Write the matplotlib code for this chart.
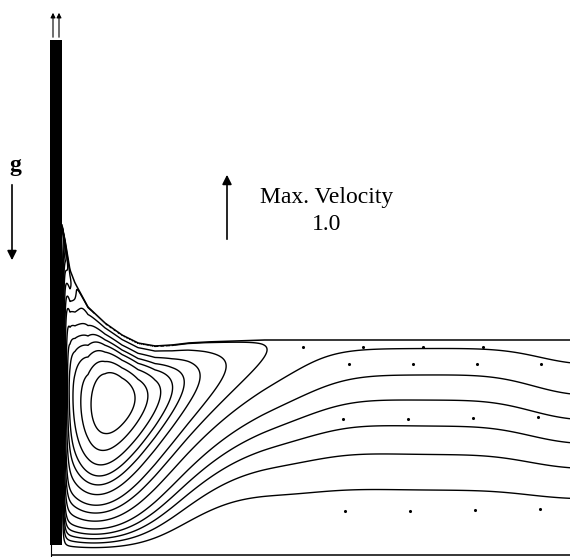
import numpy as np
import matplotlib
matplotlib.use("Agg")
import matplotlib.pyplot as plt
from matplotlib.patches import Rectangle

# ---- data -------------------------------------------------------------
# free surface (meniscus): distance from plate vs height above bath bottom
surface_x = [0, 3, 8, 13, 26, 43, 60, 76, 93, 110, 126, 143, 200, 508]
surface_y = [330, 315, 285, 272, 248, 232, 220, 212, 209, 210, 212, 213, 215, 215]

# streamline levels (flux carried by the film = 1)
open_levels = [0.26, 0.40, 0.515, 0.625, 0.74, 0.885]
vortex_levels = [1.01, 1.11, 1.22, 1.30, 1.36, 1.42, 1.48, 1.53]

# vortex parameters
vortex_strength = 1.5
vortex_xc = 30.0
vortex_w_bottom = 60.0
vortex_w_top = 140.0
vortex_wall = 2.0
vortex_bottom = 40.0
vortex_top = 38.0
# far-field bulge of the streamlines
bulge_eps = 0.21
bulge_x = 360.0
bulge_w = 120.0

# far-field velocity vectors (tiny)
vec_x = [241, 301, 361, 421, 287, 351, 415, 479, 281, 346, 411, 476, 283, 348, 413, 478]
vec_y = [208, 208, 208, 208, 191, 191, 191, 191, 136, 136, 137, 138, 44, 44, 45, 46]

H = 215.0
L = 508.0


# ---- stream function ---------------------------------------------------
def field(X, Y):
    h = np.interp(X, surface_x, surface_y)
    eta = np.clip(Y / h, 0, 1)
    zeta = np.exp(np.pi * (X + 1j * H * eta) / H)
    t = zeta + 1.0 / zeta
    psi_open = np.angle(t + 2) / np.pi
    G = np.exp(-((X - bulge_x) / bulge_w) ** 4)
    psi_open = psi_open - bulge_eps * G * eta ** 1.3 * (1 - eta) ** 0.3
    wx = vortex_w_bottom + (vortex_w_top - vortex_w_bottom) * eta
    Sx = (1 - np.exp(-X / vortex_wall)) * np.exp(-((X - vortex_xc) / wx) ** 2)
    Ty = (1 - np.exp(-Y / vortex_bottom)) * (1 - np.exp(-np.clip(h - Y, 0, None) / vortex_top))
    return psi_open + vortex_strength * Sx * Ty, h


xg = np.concatenate([np.linspace(0, 30, 300), np.linspace(30.2, L, 900)])
yg = np.linspace(0, 330, 1000)
X, Y = np.meshgrid(xg, yg)
psi, h = field(X, Y)
psi = np.ma.masked_where(Y / h > 0.999, psi)

# ---- figure -----------------------------------------------------------
fig = plt.figure(figsize=(5.70, 5.57), dpi=100)
ax = fig.add_axes([0, 0, 1, 1])
ax.set_xlim(-62, 508)
ax.set_ylim(-2, 555)
ax.axis("off")

ax.contour(X, Y, psi, levels=sorted(open_levels + vortex_levels), colors="black", linewidths=1.0)
# free surface
sx = np.linspace(0, L, 600)
ax.plot(sx, np.interp(sx, surface_x, surface_y), color="black", lw=1.1)
# bottom
ax.plot([-10, L], [0, 0], color="black", lw=1.1)
# plate (dense film streamlines)
ax.add_patch(Rectangle((-12, 10), 12, 505, color="black", lw=0))
ax.plot([-11, -11], [-2, 12], color="black", lw=0.8)
# velocity arrows on top of plate
for xa in [-9, -3]:
    ax.annotate("", xy=(xa, 545), xytext=(xa, 515),
                arrowprops=dict(arrowstyle="-|>", color="black", lw=0.8, mutation_scale=7))
ax.scatter(vec_x, vec_y, s=1.5, color="black")

# gravity label
serif = ["Liberation Serif", "DejaVu Serif"]
ax.text(-47, 390, "g", fontsize=17, fontweight="bold", family=serif, ha="center", va="center")
ax.annotate("", xy=(-50, 292), xytext=(-50, 373),
            arrowprops=dict(arrowstyle="-|>", color="black", lw=1.2, mutation_scale=14))
# scale arrow
ax.annotate("", xy=(165, 383), xytext=(165, 313),
            arrowprops=dict(arrowstyle="-|>", color="black", lw=1.2, mutation_scale=14))
ax.text(265, 358, "Max. Velocity", fontsize=17, family=serif, ha="center", va="center")
ax.text(265, 330, "1.0", fontsize=17, family=serif, ha="center", va="center")

fig.savefig("out.png", dpi=100)
